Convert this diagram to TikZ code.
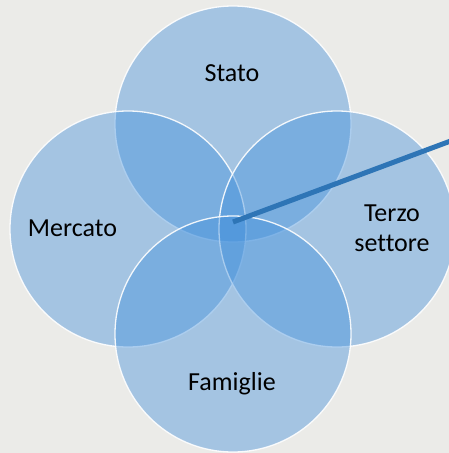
\documentclass[tikz,border=0pt]{standalone}
\usepackage{fontspec}
\setmainfont{Carlito}[Ligatures=NoCommon]
\definecolor{bgcol}{HTML}{EBEBE8}
\definecolor{vennfill}{HTML}{4290DC}
\definecolor{linecol}{HTML}{2E75B6}
\begin{document}
\begin{tikzpicture}[x=1pt,y=-1pt,
  venn/.style={circle,minimum size=236pt,inner sep=0pt,fill=vennfill,fill opacity=0.42,draw=white,draw opacity=0.9,line width=1.3pt},
  lbl/.style={font=\fontsize{26}{29.5}\selectfont,text=black,anchor=base,align=center,inner sep=0pt}]
\fill[bgcol] (0,0) rectangle (449,453);
\useasboundingbox (0,0) rectangle (449,453);
\node[venn] (stato) at (233,124) {};
\node[venn] (mercato) at (128,229) {};
\node[venn] (terzo) at (337,229) {};
\node[venn] (famiglie) at (233,334) {};
\node[lbl] (tstato) at (232,81.5) {Stato};
\node[lbl] (tmercato) at (72.5,236) {Mercato};
\node[lbl] (tterzo) at (392,251) {Terzo\\settore};
\node[lbl] (tfam) at (232,390.5) {Famiglie};
\coordinate (c) at (233,222);
\coordinate (e) at (452,140.5);
\draw[linecol,line width=5pt] (c) -- (e);
\end{tikzpicture}
\end{document}
